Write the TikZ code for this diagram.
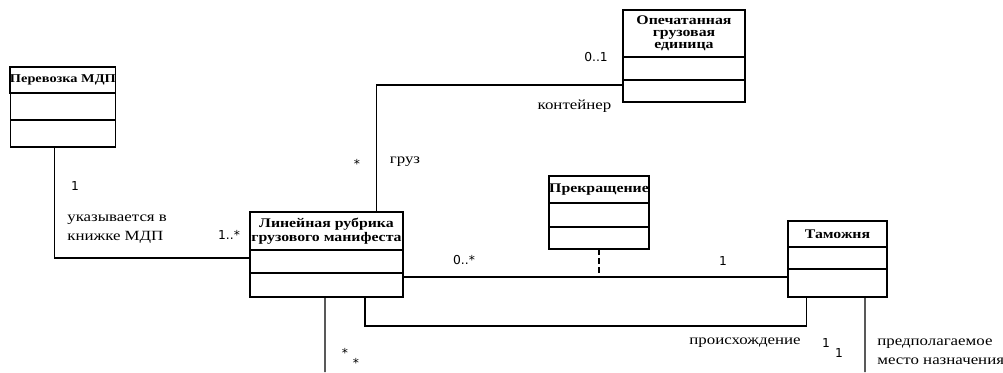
\documentclass[tikz,border=0pt]{standalone}
\usepackage{fontspec}
\setmainfont[FakeStretch=1.2]{Liberation Serif}
\newfontfamily\numfont{DejaVu Sans}
\usetikzlibrary{positioning}

\begin{document}
\begin{tikzpicture}[
		box/.style={draw, line width=0.7pt, inner sep=0pt, outer sep=0pt, anchor=north},
		ttl/.style={box, anchor=north west, align=center, font=\bfseries\fontsize{7.5}{6.8}\selectfont},
		wire/.style={line width=0.6pt},
		lbl/.style={inner sep=0pt, align=left, font=\fontsize{8}{11}\selectfont},
		num/.style={inner sep=0pt, font=\numfont\fontsize{7}{7}\selectfont}]
				\useasboundingbox (0,0) rectangle (20.06,-7.44);
				\node[ttl, minimum width=2.11cm, minimum height=0.52cm, font=\bfseries\fontsize{6.8}{7}\selectfont] (0) at (0.2,-1.34) {Перевозка МДП};
				\node[box, minimum width=2.11cm, minimum height=0.54cm, below=0pt of 0] (0-1) {};
				\node[box, minimum width=2.11cm, minimum height=0.54cm, below=0pt of 0-1] (0-2) {};
				\node[ttl, line width=1.2pt, minimum width=3.06cm, minimum height=0.76cm] (1) at (5.0,-4.24) {Линейная рубрика\\грузового манифеста};
				\node[box, line width=1.2pt, minimum width=3.06cm, minimum height=0.46cm, below=0pt of 1] (1-1) {};
				\node[box, line width=1.2pt, minimum width=3.06cm, minimum height=0.48cm, below=0pt of 1-1] (1-2) {};
				\node[ttl, minimum width=2.44cm, minimum height=0.94cm] (2) at (12.46,-0.2) {Опечатанная\\грузовая\\единица};
				\node[box, minimum width=2.44cm, minimum height=0.46cm, below=0pt of 2] (2-1) {};
				\node[box, minimum width=2.44cm, minimum height=0.44cm, below=0pt of 2-1] (2-2) {};
				\node[ttl, minimum width=2.0cm, minimum height=0.54cm] (3) at (10.98,-3.52) {Прекращение};
				\node[box, minimum width=2.0cm, minimum height=0.48cm, below=0pt of 3] (3-1) {};
				\node[box, minimum width=2.0cm, minimum height=0.44cm, below=0pt of 3-1] (3-2) {};
				\node[ttl, minimum width=1.98cm, minimum height=0.52cm] (4) at (15.76,-4.42) {Таможня};
				\node[box, minimum width=1.98cm, minimum height=0.44cm, below=0pt of 4] (4-1) {};
				\node[box, minimum width=1.98cm, minimum height=0.56cm, below=0pt of 4-1] (4-2) {};
				\coordinate (c1) at (17.3,-7.44);
				\coordinate (c2) at (6.5,-7.44);
				\draw[wire] ([xshift=0.88cm]0-2.south west) |- ([yshift=0.07cm]1-1.west);
				\draw[wire] ([xshift=2.53cm]1.north west) |- ([yshift=0.12cm]2-2.west);
				\draw[wire] ([yshift=0.16cm]1-2.east) coordinate (c0) -- (c0 -| 4-2.west);
				\draw[wire, dash pattern=on 3.3pt off 1.8pt] (3-2.south) -- (3-2.south |- c0);
				\draw[wire] ([xshift=2.3cm]1-2.south west) -- ++(0,-0.58) -| ([xshift=0.37cm]4-2.south west);
				\draw[wire] ([xshift=1.54cm]4-2.south west) -- (c1);
				\draw[wire] ([xshift=1.5cm]1-2.south west) -- (c2);
				\node[num] (5) at (1.5,-3.72) {1};
				\node[lbl, anchor=west] (6) at (1.34,-4.59) {указывается в\\книжке МДП};
				\node[num] (7) at (4.58,-4.7) {1..*};
				\node[num] (8) at (7.14,-3.28) {*};
				\node[lbl] (9) at (8.1,-3.24) {груз};
				\node[lbl] (10) at (11.49,-2.12) {контейнер};
				\node[num] (11) at (11.92,-1.14) {0..1};
				\node[num] (12) at (9.28,-5.2) {0..*};
				\node[num] (13) at (14.46,-5.22) {1};
				\node[lbl] (14) at (14.9,-6.86) {происхождение};
				\node[num] (15) at (16.52,-6.86) {1};
				\node[num] (16) at (16.78,-7.06) {1};
				\node[lbl, anchor=west] (17) at (17.54,-7.03) {предполагаемое\\место назначения};
				\node[num] (18) at (6.9,-7.05) {*};
				\node[num] (19) at (7.12,-7.26) {*};
			\end{tikzpicture}
\end{document}
